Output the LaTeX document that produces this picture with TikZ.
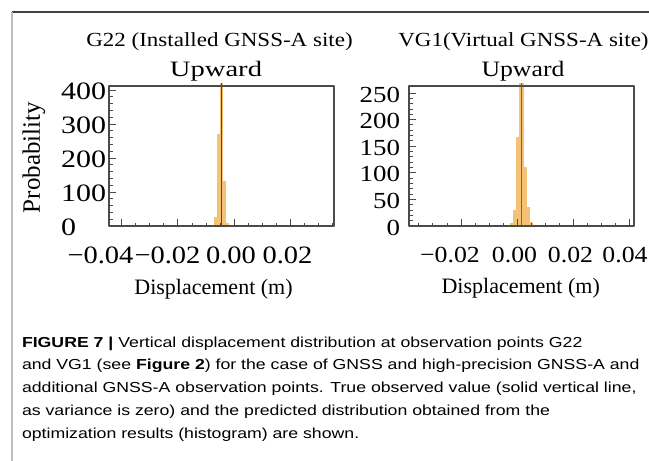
\documentclass[tikz,border=0pt]{standalone}
\usepackage{fontspec}
\setmainfont{Liberation Serif}
\newfontfamily\capfont{Liberation Sans}
\definecolor{histfill}{RGB}{245,194,117}
\definecolor{framegray}{RGB}{75,75,75}
\definecolor{lineA}{RGB}{85,72,55}
\definecolor{lineB}{RGB}{105,105,105}
\begin{document}
\begin{tikzpicture}[x=1pt,y=-1pt,line join=round]
\tikzset{every node/.style={inner sep=0pt,outer sep=0pt},
  frm/.style={draw=framegray,line width=1.7pt},
  tk/.style={draw=framegray,line width=0.9pt},
  bar/.style={fill=histfill},
  sz/.style={font=\fontsize{#1}{#1}\selectfont},
  captxt/.style={anchor=base west,xscale=1.22,font=\capfont\fontsize{14.5}{14.5}\selectfont}}
\useasboundingbox (0,0) rectangle (649,461);
\fill[white] (0,0) rectangle (649,461);
\draw[black!75,line width=1.2pt] (12,12)--(649,12);
\draw[black!25,line width=2.2pt] (12,12)--(12,461);
% left panel: G22
\begin{scope}[shift={(234.16,226)},x=2.8125pt,y=0.34pt]
\foreach \a/\h in {-7/27,-6/272,-5/421,-4/133,-3/10}
  \fill[bar] (\a,0) rectangle ({\a+1},\h);
\draw[lineA,line width=1.5pt] (-4.5,0)--(-4.5,421);
\draw[frm] (-44.5,0) rectangle (35.5,412);
\foreach \u in {-40,-35,...,35} \draw[tk] (\u,0)--++(0,3.5pt);
\foreach \u in {-40,-20,0,20} \draw[tk] (\u,0)--++(0,7pt);
\foreach \p in {20,40,...,400} \draw[tk] (-44.5,\p)--++(3.5pt,0);
\foreach \p in {100,200,...,400} \draw[tk] (-44.5,\p)--++(7pt,0);
\end{scope}
% right panel: VG1
\begin{scope}[shift={(517.28,226)},x=2.8125pt,y=0.532pt]
\foreach \a/\h in {-2.5/5,-1.5/30,-0.5/167,0.5/269,1.5/269,2.5/111,3.5/36,4.5/8}
  \fill[bar] (\a,0) rectangle ({\a+1},\h);
\draw[lineB,line width=1.5pt] (1.5,0)--(1.5,269);
\draw[frm] (-38.5,0) rectangle (41.5,263.2);
\foreach \u in {-35,-30,...,40} \draw[tk] (\u,0)--++(0,3.5pt);
\foreach \u in {-20,0,20,40} \draw[tk] (\u,0)--++(0,7pt);
\foreach \p in {10,20,...,250} \draw[tk] (-38.5,\p)--++(3.5pt,0);
\foreach \p in {50,100,...,250} \draw[tk] (-38.5,\p)--++(7pt,0);
\end{scope}
% titles
\node[sz=20,xscale=1.15,anchor=base] (ttlA) at (219.5,46.7) {G22 (Installed GNSS-A site)};
\node[sz=20,xscale=1.15,anchor=base] (ttlB) at (523.5,46.7) {VG1(Virtual GNSS-A site)};
\node[sz=22,xscale=1.3,anchor=base] (upA) at (216,76) {Upward};
\node[sz=22,xscale=1.17,anchor=base] (upB) at (523,76) {Upward};
% y tick labels
\foreach \p in {0,100,...,400}
  \node[sz=25,xscale=1.2,anchor=west] (ylA\p) at (61,{226-0.34*\p+1}) {\p};
\foreach \p in {0,50,...,250}
  \node[sz=23,xscale=1.17,anchor=east] (ylB\p) at (400,{226-0.532*\p+1.5}) {\p};
% x tick labels
\foreach \x/\nx [count=\i] in {100.5/−0.04,167.5/−0.02,231/0.00,287.5/0.02}
  \node[sz=25,xscale=1.14,anchor=base] (xlA\i) at (\x,263) {\nx};
\foreach \x/\nx [count=\i] in {450/−0.02,514.5/0.00,570.5/0.02,625/0.04}
  \node[sz=23,xscale=1.12,anchor=base] (xlB\i) at (\x,262) {\nx};
\node[sz=22,anchor=base] (dispA) at (213.5,294) {Displacement (m)};
\node[sz=22,anchor=base] (dispB) at (520.7,293) {Displacement (m)};
\node[sz=25,rotate=90] (prob) at (34,157.6) {Probability};
% caption
\node[captxt] (cap1) at (22,347) {\textbf{FIGURE 7 |} Vertical displacement distribution at observation points G22};
\node[captxt] (cap2) at (22,369.75) {and VG1 (see \textbf{Figure 2}) for the case of GNSS and high-precision GNSS-A and};
\node[captxt] (cap3) at (22,392.5) {additional GNSS-A observation points. True observed value (solid vertical line,};
\node[captxt] (cap4) at (22,415.25) {as variance is zero) and the predicted distribution obtained from the};
\node[captxt] (cap5) at (22,438) {optimization results (histogram) are shown.};
\end{tikzpicture}
\end{document}
